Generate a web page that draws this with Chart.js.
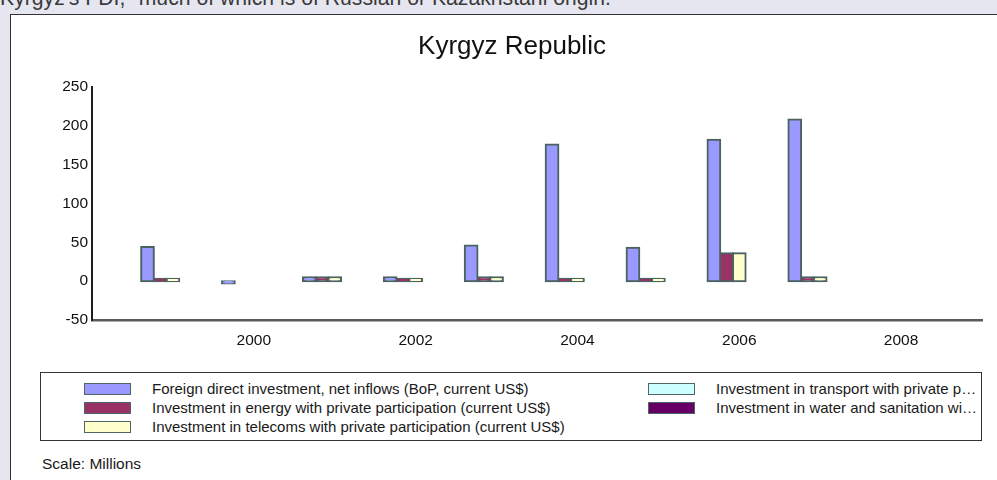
<!DOCTYPE html>
<html>
<head>
<meta charset="utf-8">
<title>Kyrgyz Republic</title>
<script src="https://cdn.jsdelivr.net/npm/chart.js@4/dist/chart.umd.min.js"></script>
<style>
  html, body { margin: 0; padding: 0; }
  body {
    width: 997px; height: 480px; overflow: hidden; position: relative;
    background: #e6e6f1;
    font-family: "Liberation Sans", Arial, sans-serif;
  }
  #caption { position: absolute; left: 0; top: -14px; font-size: 21.2px; line-height: 24px; color: #3a3a3a; white-space: nowrap; }
  #panel { position: absolute; left: 10px; top: 14px; width: 1010px; height: 480px; background: #fff; border: 1.5px solid #333; }
  #chart-wrap { position: absolute; left: 10px; top: 14px; width: 1004px; height: 346px; }
  #legend { position: absolute; left: 40px; top: 372px; width: 942px; height: 69px; box-sizing: border-box; border: 1.5px solid #333; }
  .item { position: absolute; height: 19px; line-height: 19px; font-size: 15px; color: #1a1a1a; white-space: nowrap; overflow: hidden; text-overflow: ellipsis; }
  .swatch { position: absolute; width: 47px; height: 12px; box-sizing: border-box; border: 1.5px solid #4f6666; }
  #scale { position: absolute; left: 42px; top: 455px; font-size: 15.5px; line-height: 18px; color: #1a1a1a; }
</style>
</head>
<body>
<div id="caption">Kyrgyz's FDI, "much of which is of Russian or Kazakhstani origin.</div>
<div id="panel"></div>
<div id="chart-wrap"><canvas id="chart" width="1004" height="346"></canvas></div>
<div id="legend"></div>
<div id="scale">Scale: Millions</div>

<script>
// values in millions of current US$
const years     = [1999, 2000, 2001, 2002, 2003, 2004, 2005, 2006, 2007];
const fdi       = [44, -3, 5, 5, 46, 176, 43, 182, 208];
const energy    = [3, null, 5, 3, 5, 3, 3, 36, 5];
const telecoms  = [3, null, 5, 3, 5, 3, 3, 36, 5];
const transport = [null, null, null, null, null, null, null, null, null];
const water     = [null, null, null, null, null, null, null, null, null];

const seriesNames = [
  'Foreign direct investment, net inflows (BoP, current US$)',
  'Investment in energy with private participation (current US$)',
  'Investment in telecoms with private participation (current US$)',
  'Investment in transport with private participation (current US$)',
  'Investment in water and sanitation with private participation (current US$)'
];
const seriesColors = ['#9999ff', '#993366', '#ffffcc', '#ccffff', '#660066'];

const yTicks = [-50, 0, 50, 100, 150, 200, 250];
const xTicks = [2000, 2002, 2004, 2006, 2008];

const FONT = '"Liberation Sans", Arial, sans-serif';
const EDGE = '#4a6262';

const seriesData = [fdi, energy, telecoms, transport, water];

const ctx = document.getElementById('chart').getContext('2d');
const chart = new Chart(ctx, {
  type: 'bar',
  data: {
    labels: years,
    datasets: seriesData.map((d, i) => ({
      label: seriesNames[i],
      data: d,
      backgroundColor: seriesColors[i],
      borderColor: EDGE,
      borderWidth: 2,
      borderSkipped: false,
      inflateAmount: 1,   // stroke sits on the edge, as in the original
      categoryPercentage: 0.785,
      barPercentage: 1.0
    }))
  },
  options: {
    responsive: false,
    devicePixelRatio: 1,
    animation: false,
    layout: { padding: { left: 32, right: 32, top: 0, bottom: 0 } },
    plugins: {
      legend: { display: false },
      tooltip: { enabled: false },
      title: {
        display: true,
        text: 'Kyrgyz Republic',
        color: '#111',
        font: { family: FONT, size: 26, weight: 'normal' },
        padding: { top: 17.4, bottom: 24.4 }
      }
    },
    scales: {
      x: {
        type: 'linear',
        min: 1998,
        max: 2009,
        offset: false,
        afterBuildTicks: s => { s.ticks = xTicks.map(v => ({ value: v })); },
        afterFit: s => { s.height = 40; },
        ticks: {
          autoSkip: false,
          maxRotation: 0,
          padding: 11,
          color: '#111',
          font: { family: FONT, size: 15.5 },
          callback: v => String(v)
        },
        grid: { display: false, drawTicks: false },
        border: { display: true, color: '#5a5a5a', width: 2.5 }
      },
      y: {
        min: -50,
        max: 250,
        afterBuildTicks: s => { s.ticks = yTicks.map(v => ({ value: v })); },
        afterFit: s => { s.width = 50; },
        ticks: {
          padding: 4,
          color: '#111',
          font: { family: FONT, size: 15.5 }
        },
        grid: { display: false, drawTicks: false },
        border: { display: true, color: '#1e1e1e', width: 2 }
      }
    }
  }
});

// legend box, two columns like the original export
const legend = document.getElementById('legend');
const cols = [
  { swatchX: 43, textX: 111, width: 480 },
  { swatchX: 607, textX: 675, width: 264 }
];
chart.data.datasets.forEach((ds, i) => {
  const col = cols[i < 3 ? 0 : 1];
  const row = i < 3 ? i : i - 3;
  const top = 6 + row * 19.2;

  const sw = document.createElement('div');
  sw.className = 'swatch';
  sw.style.left = col.swatchX + 'px';
  sw.style.top = (top + 3.5) + 'px';
  sw.style.background = ds.backgroundColor;
  legend.appendChild(sw);

  const txt = document.createElement('div');
  txt.className = 'item';
  txt.style.left = col.textX + 'px';
  txt.style.top = top + 'px';
  txt.style.maxWidth = col.width + 'px';
  txt.textContent = ds.label;
  legend.appendChild(txt);
});
</script>
</body>
</html>
